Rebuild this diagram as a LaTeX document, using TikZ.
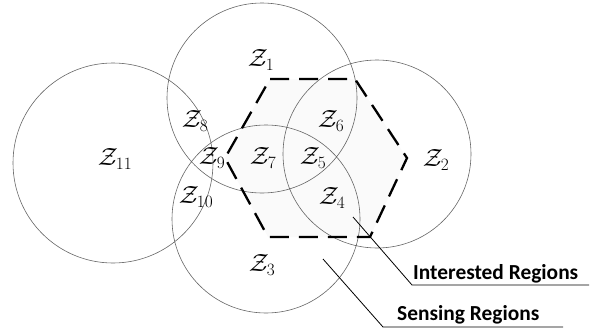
\documentclass[tikz,border=0pt]{standalone}
\usepackage{fontspec}
\newfontfamily\calloutfont{Carlito}

\begin{document}
\begin{tikzpicture}[x=1pt, y=-1pt,
	zone/.style = {draw=black!60, line width=0.6pt},
	region/.style = {line width=2.3pt, dash pattern=on 19pt off 10pt},
	lbl/.style = {font=\fontsize{25}{28}\selectfont, inner sep=0pt},
	callout/.style = {font=\calloutfont\bfseries\fontsize{21.4}{24}\selectfont, inner sep=0pt, anchor=base west},
	leader/.style = {draw, line width=0.8pt}]
				\useasboundingbox (0,0) rectangle (595,330);
				% sensing circles
				\coordinate (c1) at (262,98);
				\coordinate (c2) at (377,154);
				\coordinate (c3) at (266,219);
				\coordinate (c11) at (113,163);
				% interested region
				\coordinate (h1) at (270,79);
				\coordinate (h2) at (355,79);
				\coordinate (h3) at (407,158);
				\coordinate (h4) at (370,237);
				\coordinate (h5) at (268,237);
				\coordinate (h6) at (225,158);
				\fill[black!2] (h1) -- (h2) -- (h3) -- (h4) -- (h5) -- (h6) -- cycle;
				\draw[zone] (c1) circle[radius=95] (c2) circle[radius=94] (c3) circle[radius=94] (c11) circle[radius=100];
				\draw[region] (h1) -- (h2) -- (h3) -- (h4) -- (h5) -- (h6) -- cycle;
				% zone labels
				\node[lbl] (z1) at (261,60) {$\mathcal{Z}_1$};
				\node[lbl] (z2) at (436,160) {$\mathcal{Z}_2$};
				\node[lbl] (z3) at (262,265) {$\mathcal{Z}_3$};
				\node[lbl] (z4) at (332,198) {$\mathcal{Z}_4$};
				\node[lbl] (z5) at (313,158) {$\mathcal{Z}_5$};
				\node[lbl] (z6) at (331,121) {$\mathcal{Z}_6$};
				\node[lbl] (z7) at (263,158) {$\mathcal{Z}_7$};
				\node[lbl] (z8) at (195,121) {$\mathcal{Z}_8$};
				\node[lbl] (z9) at (212,158) {$\mathcal{Z}_9$};
				\node[lbl] (z10) at (196,197) {$\mathcal{Z}_{10}$};
				\node[lbl] (z11) at (115,159) {$\mathcal{Z}_{11}$};
				% callouts
				\node[callout] (itxt) at (413,279) {Interested Regions};
				\node[callout] (stxt) at (397,320) {Sensing Regions};
				\coordinate (ia) at (353,217);
				\coordinate (ib) at (412,285);
				\coordinate (ic) at (589,285);
				\coordinate (sa) at (323,259);
				\coordinate (sb) at (383,327);
				\coordinate (sc) at (563,327);
				\draw[leader] (ia) -- (ib) -- (ic);
				\draw[leader] (sa) -- (sb) -- (sc);
			\end{tikzpicture}
\end{document}
